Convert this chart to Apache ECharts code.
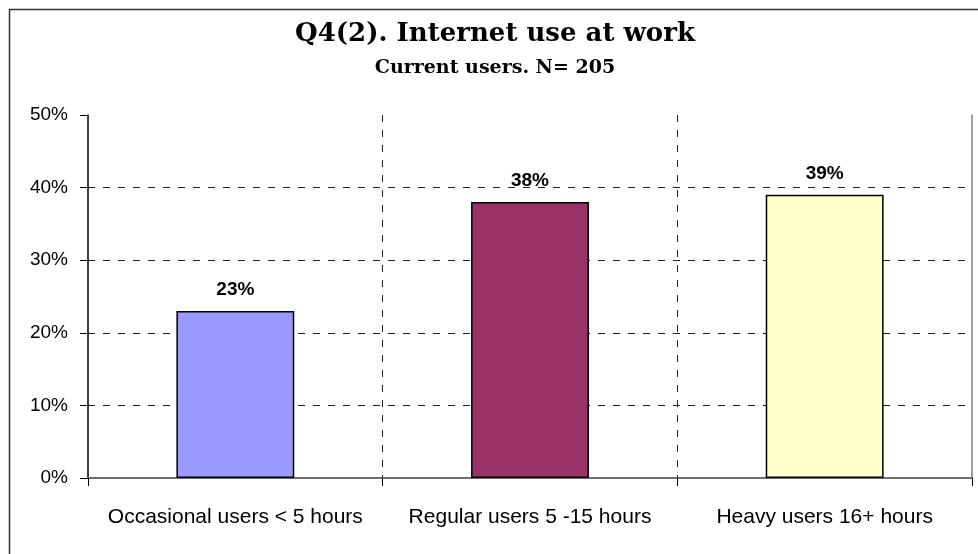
<!DOCTYPE html>
<html>
<head>
<meta charset="utf-8">
<script src="https://cdn.jsdelivr.net/npm/echarts@6/dist/echarts.min.js"></script>
<style>
  html, body { margin: 0; padding: 0; background: #fff; }
  #chart { width: 978px; height: 554px; }
</style>
</head>
<body>
<div id="chart"></div>
<script>
// 数据
const categories = ['Occasional users < 5 hours', 'Regular users 5 -15 hours', 'Heavy users 16+ hours'];
const shares = [23, 38, 39];
const barColors = ['#9999FF', '#993366', '#FFFFCC'];
const yTicks = [0, 10, 20, 30, 40, 50];

const chart = echarts.init(document.getElementById('chart'));

const dash = { color: '#222', width: 1, type: [7, 8] };
const frame = { color: '#808080', width: 1.5 };

chart.setOption({
  animation: false,
  title: [{
    text: 'Q4(2). Internet use at work',
    left: 490, top: 16, textAlign: 'center',
    textStyle: { fontFamily: 'DejaVu Serif', fontWeight: 'bold', fontSize: 26, color: '#000' }
  }, {
    text: 'Current users. N= 205',
    left: 490, top: 54, textAlign: 'center',
    textStyle: { fontFamily: 'DejaVu Serif', fontWeight: 'bold', fontSize: 19, color: '#000' }
  }],
  graphic: [{
    // 外框
    type: 'rect', left: 7, top: 7, z: -1,
    shape: { width: 1100, height: 700 },
    style: { fill: 'none', stroke: '#333', lineWidth: 1.5 }
  }],
  grid: { left: 88, right: 6, top: 115, bottom: 76 },
  xAxis: [{
    type: 'category',
    data: categories,
    axisLine: { lineStyle: { color: '#000', width: 1.5 } },
    axisTick: { show: true, interval: 0, length: 8, lineStyle: { color: '#000' } },
    axisLabel: { interval: 0, color: '#000', fontFamily: 'Liberation Sans', fontSize: 21, margin: 29 },
    splitLine: { show: true, interval: 0, showMinLine: false, showMaxLine: false, lineStyle: dash }
  }, {
    type: 'category', position: 'top', data: categories,
    axisLine: { lineStyle: frame },
    axisTick: { show: false }, axisLabel: { show: false }, splitLine: { show: false }
  }],
  yAxis: [{
    type: 'value',
    min: yTicks[0], max: yTicks[yTicks.length - 1], interval: 10,
    axisLine: { show: true, lineStyle: { color: '#000', width: 1.5 } },
    axisTick: { show: true, length: 8, lineStyle: { color: '#000' } },
    axisLabel: { color: '#000', fontFamily: 'Liberation Sans', fontSize: 19, margin: 20, formatter: '{value}%' },
    splitLine: { show: true, showMinLine: false, showMaxLine: false, lineStyle: dash }
  }, {
    type: 'value', position: 'right',
    min: yTicks[0], max: yTicks[yTicks.length - 1], interval: 10,
    axisLine: { show: true, lineStyle: frame },
    axisTick: { show: false }, axisLabel: { show: false }, splitLine: { show: false }
  }],
  series: [{
    type: 'bar',
    barWidth: '40%',
    data: shares.map((v, i) => ({
      value: v,
      itemStyle: { color: barColors[i], borderColor: '#000', borderWidth: 1.5 }
    })),
    label: {
      show: true, position: 'top', distance: 12,
      formatter: '{c}%',
      color: '#000', fontFamily: 'Liberation Sans', fontWeight: 'bold', fontSize: 19
    }
  }]
});
</script>
</body>
</html>
